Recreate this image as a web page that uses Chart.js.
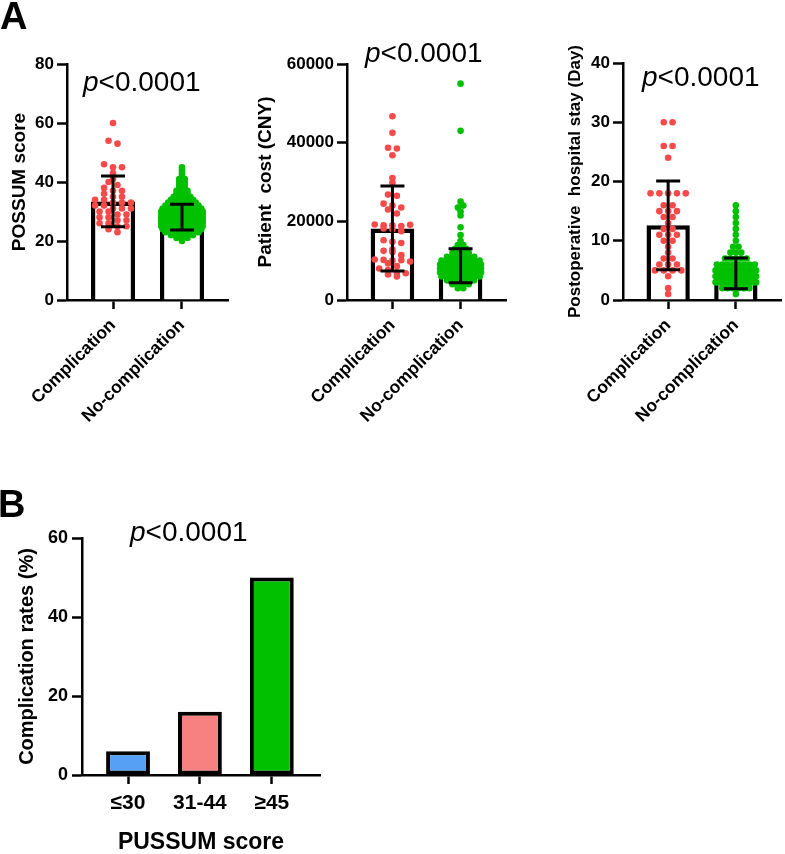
<!DOCTYPE html>
<html>
<head>
<meta charset="utf-8">
<script src="https://cdn.jsdelivr.net/npm/chart.js@4.4.1/dist/chart.umd.min.js"></script>
<style>
html,body{margin:0;padding:0;background:#fff;}
#wrap{position:relative;width:785px;height:854px;overflow:hidden;font-family:"Liberation Sans",Arial,sans-serif;color:#000;}
canvas{position:absolute;}
.lbl{position:absolute;font-weight:bold;font-size:38px;line-height:38px;}
.pv{position:absolute;font-size:28px;line-height:28px;white-space:nowrap;}
</style>
</head>
<body>
<div id="wrap">
  <canvas id="a1" width="245" height="450" style="left:0px;top:0px"></canvas>
  <canvas id="a2" width="275" height="450" style="left:245px;top:0px"></canvas>
  <canvas id="a3" width="240" height="450" style="left:545px;top:0px"></canvas>
  <canvas id="b"  width="340" height="384" style="left:0px;top:470px"></canvas>
  <div class="lbl" style="left:0px;top:-3px">A</div>
  <div class="lbl" style="left:-2px;top:485px">B</div>
  <div class="pv" style="left:83px;top:68px"><i>p</i>&lt;0.0001</div>
  <div class="pv" style="left:365px;top:39px"><i>p</i>&lt;0.0001</div>
  <div class="pv" style="left:642px;top:63px"><i>p</i>&lt;0.0001</div>
  <div class="pv" style="left:130px;top:518px"><i>p</i>&lt;0.0001</div>
</div>
<script>
// ---------------- DATA ----------------
const groups = ['Complication', 'No-complication'];

// Panel A (left): POSSUM score
const possumComp = [60,54,53,46,45,45,43,41,40,39,38,37,37,36,35,35,34,34,33,33,33,32,32,31,31,31,30,30,29,29,28,28,27,27,26,26,25,25,24,23];
const possumNoCompValues = [20,21,22,23,24,25,26,27,28,29,30,31,32,33,34,35,36,37,38,39,40,41,42,43,44,45];
const possumNoCompCounts = [1,3,5,7,8,9,9,10,10,10,9,8,7,6,5,4,3,3,2,2,2,2,1,1,1,1];
const possumMean = [33.4, 28.1];
const possumSD = [8.6, 4.4];
const possumTicks = [0, 20, 40, 60, 80];

// Panel A (middle): Patient cost (CNY)
const costComp = [46700,42500,38700,38500,36800,31000,29800,26800,26500,24500,24000,23500,23000,22000,19200,19000,19000,18800,19100,18200,18000,17500,15200,14800,14500,12800,12500,12200,11400,10300,10200,10000,10100,9800,9300,8600,8000,7600,7000,6800,6500,6000];
const costNoCompValues = [3000,4000,5000,6000,7000,8000,9000,10000,11000,12000,13000,14000,15000,16500,18500,21500,22500,23500,24000,25000,43000,55000];
const costNoCompCounts = [2,4,6,8,11,13,11,8,6,4,3,2,1,1,1,1,1,1,1,1,1,1];
const costMean = [18200, 8700];
const costSD = [10800, 4300];
const costTicks = [0, 20000, 40000, 60000];

// Panel A (right): Postoperative hospital stay (Day)
const stayComp = [30,30,26,26,24,18,18,18,18,18,16,16,15,15,15,14,14,13,12,12,11,11,11,10,10,9,8,7,7,6,6,6,5,5,5,5,4,2,1];
const stayNoCompValues = [1,2,3,4,5,6,7,8,9,10,11,12,13,14,15,16];
const stayNoCompCounts = [1,6,30,30,20,8,5,3,2,1,1,1,1,1,1,1];
const stayMean = [12.6, 4.5];
const staySD = [7.5, 2.6];
const stayTicks = [0, 10, 20, 30, 40];

// Panel B: complication rates by PUSSUM score
const scoreGroups = ['\u226430', '31-44', '\u226545'];
const complicationRates = [6, 16, 50];
const rateTicks = [0, 20, 40, 60];

// ---------------- STYLE ----------------
const FONT = '"Liberation Sans", Arial, sans-serif';
Chart.defaults.font.family = FONT;
Chart.defaults.color = '#000';
const RED = '#f64a4a';
const GREEN = '#00c000';
const BAR_COLORS = ['#56a0f5', '#f78080', '#00c000'];

function expand(values, counts) {
  const out = [];
  values.forEach((v, i) => { for (let k = 0; k < counts[i]; k++) out.push(v); });
  return out;
}

// simple dot-plot spreading: points sharing a value bin are spread sideways
function swarm(values, center, binSize, step, maxSpread) {
  const bins = new Map();
  values.forEach(v => {
    const k = Math.round(v / binSize);
    if (!bins.has(k)) bins.set(k, []);
    bins.get(k).push(v);
  });
  const pts = [];
  bins.forEach(arr => {
    const n = arr.length;
    const s = n > 1 ? Math.min(step, maxSpread / (n - 1)) : 0;
    arr.forEach((v, i) => pts.push({x: center + (i - (n - 1) / 2) * s, y: v}));
  });
  return pts;
}

const errPlugin = {
  id: 'errbars',
  afterDatasetsDraw(chart, args, opts) {
    if (!opts || !opts.means) return;
    const ctx = chart.ctx, x = chart.scales.x, y = chart.scales.y;
    ctx.save();
    ctx.strokeStyle = '#000';
    ctx.lineWidth = opts.width;
    opts.means.forEach((m, i) => {
      const px = x.getPixelForValue(i);
      const top = y.getPixelForValue(m + opts.sds[i]);
      const bot = y.getPixelForValue(m - opts.sds[i]);
      ctx.beginPath();
      ctx.moveTo(px, top); ctx.lineTo(px, bot);
      ctx.moveTo(px - opts.cap, top); ctx.lineTo(px + opts.cap, top);
      ctx.moveTo(px - opts.cap, bot); ctx.lineTo(px + opts.cap, bot);
      ctx.stroke();
    });
    ctx.restore();
  }
};

function xScale(labels, min, max, extra) {
  return Object.assign({
    type: 'linear', min: min, max: max, offset: false, bounds: 'data',
    afterBuildTicks: s => { s.ticks = labels.map((g, i) => ({value: i})); },
    grid: {display: true, offset: false, drawOnChartArea: false, drawTicks: true, tickLength: 9, tickWidth: 2.5, tickColor: '#000'},
    border: {display: true, color: '#000', width: 2.5}
  }, extra);
}

function dotPanel(id, o) {
  const compPts = swarm(o.comp, 0, o.binC, 0.13, 0.6);
  const noPts = swarm(o.nocomp, 1, o.binN, 0.08, 0.6);
  new Chart(document.getElementById(id), {
    type: 'bar',
    data: {
      datasets: [
        {type: 'bar', data: o.means.map((m, i) => ({x: i, y: m})), backgroundColor: '#fff',
         borderColor: '#000', borderWidth: 4.5, barPercentage: 0.64, categoryPercentage: 1, order: 3},
        {type: 'scatter', data: compPts, backgroundColor: RED, borderWidth: 0, pointRadius: 3.3, order: 2},
        {type: 'scatter', data: noPts, backgroundColor: GREEN, borderWidth: 0, pointRadius: 3.3, order: 1}
      ]
    },
    options: {
      responsive: false, animation: false, events: [],
      layout: {padding: {top: o.top, right: o.padR, left: 0, bottom: 0}},
      plugins: {legend: {display: false}, tooltip: {enabled: false},
        errbars: {means: o.means, sds: o.sds, cap: 12, width: 3}},
      scales: {
        x: xScale(groups, -0.667, 1.667, {
          afterFit: s => { s.height = 150; },
          ticks: {callback: v => groups[v], maxRotation: 45, minRotation: 45, autoSkip: false,
                  font: {size: 17.5, weight: 'bold'}, color: '#000', padding: 6}
        }),
        y: {
          min: 0, max: o.ticks[o.ticks.length - 1],
          afterBuildTicks: s => { s.ticks = o.ticks.map(v => ({value: v})); },
          afterFit: s => { s.width = o.yw; },
          ticks: {callback: v => String(v), font: {size: 17, weight: 'bold'}, color: '#000', padding: 3},
          grid: {display: true, drawOnChartArea: false, drawTicks: true, tickLength: 10, tickWidth: 2.5, tickColor: '#000'},
          border: {display: true, color: '#000', width: 2.5},
          title: {display: true, text: o.title, color: '#000', font: {size: o.titleSize, weight: 'bold'}, padding: {top: o.tpad, bottom: 0}}
        }
      }
    },
    plugins: [errPlugin]
  });
}

dotPanel('a1', {comp: possumComp, nocomp: expand(possumNoCompValues, possumNoCompCounts),
  means: possumMean, sds: possumSD, ticks: possumTicks, binC: 2, binN: 1,
  top: 64, padR: 17, yw: 67, title: 'POSSUM score', titleSize: 19, tpad: 8.6});
dotPanel('a2', {comp: costComp, nocomp: expand(costNoCompValues, costNoCompCounts),
  means: costMean, sds: costSD, ticks: costTicks, binC: 1500, binN: 1000,
  top: 64, padR: 14, yw: 102, title: 'Patient  cost (CNY)', titleSize: 19, tpad: 9.6});
dotPanel('a3', {comp: stayComp, nocomp: expand(stayNoCompValues, stayNoCompCounts),
  means: stayMean, sds: staySD, ticks: stayTicks, binC: 1, binN: 1,
  top: 63, padR: 2, yw: 78, title: 'Postoperative  hospital stay (Day)', titleSize: 17, tpad: 19.8});

new Chart(document.getElementById('b'), {
  type: 'bar',
  data: {
    datasets: [{
      data: complicationRates.map((r, i) => ({x: i, y: r})),
      backgroundColor: BAR_COLORS, borderColor: '#000', borderWidth: 4,
      barPercentage: 0.61, categoryPercentage: 1, borderSkipped: false
    }]
  },
  options: {
    responsive: false, animation: false, events: [],
    layout: {padding: {top: 68, right: 20, left: 0, bottom: 0}},
    plugins: {legend: {display: false}, tooltip: {enabled: false}},
    scales: {
      x: xScale(scoreGroups, -0.64, 2.67, {
        afterFit: s => { s.height = 79; },
        ticks: {callback: v => scoreGroups[v], maxRotation: 0, minRotation: 0, autoSkip: false,
                font: {size: 21, weight: 'bold'}, color: '#000', padding: 7},
        title: {display: true, text: 'PUSSUM score', color: '#000', font: {size: 23, weight: 'bold', lineHeight: 1}, padding: {top: 0, bottom: 0}}
      }),
      y: {
        min: 0, max: 60,
        afterBuildTicks: s => { s.ticks = rateTicks.map(v => ({value: v})); },
        afterFit: s => { s.width = 82; },
        ticks: {callback: v => String(v), font: {size: 18, weight: 'bold'}, color: '#000', padding: 4},
        grid: {display: true, drawOnChartArea: false, drawTicks: true, tickLength: 10, tickWidth: 2.5, tickColor: '#000'},
        border: {display: true, color: '#000', width: 2.5},
        title: {display: true, text: 'Complication rates (%)', color: '#000', font: {size: 20, weight: 'bold'}, padding: {top: 15, bottom: 0}}
      }
    }
  }
});
</script>
</body>
</html>
